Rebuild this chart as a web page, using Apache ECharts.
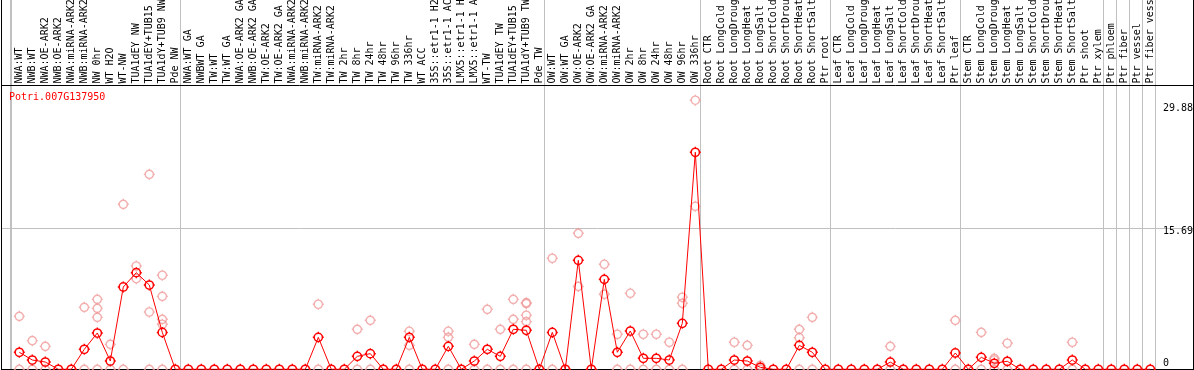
<!DOCTYPE html>
<html><head><meta charset="utf-8">
<script src="https://cdn.jsdelivr.net/npm/echarts@6/dist/echarts.min.js"></script>
<style>html,body{margin:0;padding:0;background:#fff}#c{width:1194px;height:370px}</style>
</head><body><div id="c"></div>
<script>
const categories = [
  'NWA:WT','NWB:WT','NWA:OE-ARK2','NWB:OE-ARK2','NWA:miRNA-ARK2','NWB:miRNA-ARK2','NW 0hr','WT H2O','WT-NW','TUA1dEY NW','TUA1dEY+TUB15','TUA1dY+TUB9 NW','Pde NW',
  'NWA:WT GA','NWBWT GA','TW:WT','TW:WT GA','NWA:OE-ARK2 GA','NWB:OE-ARK2 GA','TW:OE-ARK2','TW:OE-ARK2 GA','NWA:miRNA-ARK2','NWB:miRNA-ARK2','TW:miRNA-ARK2','TW:miRNA-ARK2',
  'TW 2hr','TW 8hr','TW 24hr','TW 48hr','TW 96hr','TW 336hr','WT ACC','35S::etr1-1 H2','35S::etr1-1 AC','LMX5::etr1-1 H','LMX5::etr1-1 A','WT-TW','TUA1dEY TW','TUA1dEY+TUB15','TUA1dY+TUB9 TW','Pde TW',
  'OW:WT','OW:WT GA','OW:OE-ARK2','OW:OE-ARK2 GA','OW:miRNA-ARK2','OW:miRNA-ARK2','OW 2hr','OW 8hr','OW 24hr','OW 48hr','OW 96hr','OW 336hr',
  'Root CTR','Root LongCold','Root LongDroug','Root LongHeat','Root LongSalt','Root ShortCold','Root ShortDrou','Root ShortHeat','Root ShortSalt','Ptr root',
  'Leaf CTR','Leaf LongCold','Leaf LongDroug','Leaf LongHeat','Leaf LongSalt','Leaf ShortCold','Leaf ShortDrou','Leaf ShortHeat','Leaf ShortSalt','Ptr leaf',
  'Stem CTR','Stem LongCold','Stem LongDroug','Stem LongHeat','Stem LongSalt','Stem ShortCold','Stem ShortDrou','Stem ShortHeat','Stem ShortSalt','Ptr shoot','Ptr xylem',
  'Ptr phloem','Ptr fiber','Ptr vessel','Ptr fiber vess'
];
const meanValues = [
  1.89,1.03,0.81,0,0,2.22,4.03,0.92,9.14,10.73,9.36,4.1,0,
  0,0,0,0,0,0,0,0,0,0,3.55,0,
  0,1.44,1.74,0,0,3.55,0,0,2.55,0,0.92,2.22,1.44,4.44,4.33,0,
  4.1,0,12.1,0,9.99,1.89,4.25,1.22,1.22,1.03,5.1,24.1,
  0,0,1.03,0.92,0.22,0,0,2.66,1.89,0,
  0,0,0,0,0.8,0,0,0,0,1.81,
  0,1.33,0.67,0.89,0,0,0,0,1.03,0,0,
  0,0,0,0
];
// replicate measurements: category number (1-based) and values
const replicateCats = [1,2,3,6,7,8,9,10,11,12,24,27,28,31,34,36,37,38,39,40,42,44,46,47,48,49,50,51,52,53,56,57,58,61,62,68,73,75,76,77,82];
const replicateVals = [
  [5.88,0],[3.18,0],[2.55,0],[6.88,0],[7.77,6.77,5.77,0],[2.77,0],[18.32,0],[11.47,10.06],[21.65,6.36,0],[10.44,8.1,5.55,5.0,0],
  [7.22,0],[4.44,0],[5.44,0],[4.22,2.66,0],[4.22,3.55,0],[2.77,0],[6.66,0],[4.44,0],[7.77,5.55,0],[7.4,7.3,6.0,5.29,0],
  [12.33,0],[15.1,9.2],[11.66,8.33],[3.89,0],[8.44,0],[3.89,0],[3.89,0],[3.0,0],[8.0,7.33,0],[29.88,18.1],
  [3.0,0],[2.66,0],[0.44,0],[4.44,3.5,0],[5.77,0],[2.55,0],[5.44,0],[4.1,0],[1.22,1.03,0],[2.89,0],[3.0,0]
];
const groupStarts = [0,13,41,53,63,73,84,85,86,87];
const geneLabel = 'Potri.007G137950';
const yTickValues = [0, 15.69, 29.88];
const yTickLabels = ['0', '15.69', '29.88'];
const yMax = 31.38;

const FONT = '"DejaVu Sans Mono", monospace';
const symbolPath = 'path://M6,0L6,1.5M6,10.5L6,12M0,6L1.5,6M10.5,6L12,6M10.5,6A4.5,4.5,0,1,1,1.5,6A4.5,4.5,0,1,1,10.5,6Z';
const repData = [];
replicateCats.forEach((c, i) => replicateVals[i].forEach(v => repData.push([c - 1, v])));

const chart = echarts.init(document.getElementById('c'), null, {renderer: 'canvas'});
const plotTop = 86.7, plotBottom = 0.7;
chart.setOption({
  animation: false,
  grid: [
    {left: 11.3, width: 1144, top: 0, bottom: 0.5, outerBoundsMode: 'none', containLabel: false},
    {left: 1.5, right: 0.5, top: plotTop, bottom: plotBottom, outerBoundsMode: 'none', containLabel: false},
    {left: 12.8, width: 1144, top: 0, height: 85.5, outerBoundsMode: 'none', containLabel: false},
    {left: 12.8, width: 1144, top: plotTop, bottom: plotBottom, outerBoundsMode: 'none', containLabel: false}
  ],
  xAxis: [
    {gridIndex: 0, type: 'category', data: categories, axisLine: {show: false}, axisTick: {show: false}, axisLabel: {show: false},
     splitLine: {show: true, showMinLine: true, showMaxLine: true, interval: (i) => groupStarts.includes(i), lineStyle: {color: '#c0c0c0', width: 1}}},
    {gridIndex: 1, type: 'value', min: 0, max: 1, show: false},
    {gridIndex: 2, type: 'category', data: categories, position: 'bottom', axisLine: {show: false}, axisTick: {show: false}, splitLine: {show: false},
     axisLabel: {show: true, inside: true, rotate: 90, interval: 0, margin: 2, fontFamily: FONT, fontSize: 10, color: '#000'}},
    {gridIndex: 3, type: 'category', data: categories, show: false}
  ],
  yAxis: [
    {gridIndex: 0, type: 'value', show: false},
    {gridIndex: 1, type: 'value', min: 0, max: yMax, interval: yMax / 2, axisLine: {show: false}, axisTick: {show: false}, axisLabel: {show: false},
     splitLine: {show: true, lineStyle: {color: ['rgba(0,0,0,0)', '#c0c0c0', 'rgba(0,0,0,0)'], width: 1}}},
    {gridIndex: 2, type: 'value', show: false},
    {gridIndex: 3, type: 'value', min: 0, max: yMax, show: false}
  ],
  series: [
    {type: 'scatter', xAxisIndex: 3, yAxisIndex: 3, data: repData, symbol: symbolPath, symbolSize: 11, silent: true, z: 2,
     itemStyle: {color: 'rgba(0,0,0,0)', borderColor: '#f09a9a', borderWidth: 1.4}},
    {type: 'line', xAxisIndex: 3, yAxisIndex: 3, data: meanValues, symbol: symbolPath, symbolSize: 11, showAllSymbol: true, silent: true, z: 3,
     lineStyle: {color: '#ff0000', width: 1}, itemStyle: {color: 'rgba(0,0,0,0)', borderColor: '#ff0000', borderWidth: 1.5}}
  ]
});

const yPx = v => chart.convertToPixel({yAxisIndex: 3}, v);
const c0 = chart.convertToPixel({xAxisIndex: 0}, 0);
const c1 = chart.convertToPixel({xAxisIndex: 0}, 1);
const firstSep = Math.round(c0 - (c1 - c0) / 2) - 0.5;
const labelOffsets = [{va: 'bottom', dy: -1}, {va: 'top', dy: -1.5}, {va: 'top', dy: 3}];
const graphics = [
  {type: 'line', shape: {x1: firstSep, y1: 0, x2: firstSep, y2: 369.5}, style: {stroke: '#c0c0c0', lineWidth: 1}},
  {type: 'line', shape: {x1: 1.5, y1: 0, x2: 1.5, y2: 369.5}, style: {stroke: '#000', lineWidth: 1}},
  {type: 'line', shape: {x1: 1193.5, y1: 0, x2: 1193.5, y2: 369.5}, style: {stroke: '#000', lineWidth: 1}},
  {type: 'line', shape: {x1: 1, y1: 85.5, x2: 1194, y2: 85.5}, style: {stroke: '#000', lineWidth: 1}},
  {type: 'line', shape: {x1: 1, y1: 369.5, x2: 1194, y2: 369.5}, style: {stroke: '#000', lineWidth: 1}},
  {type: 'text', x: 9, y: 97, style: {text: geneLabel, fill: '#ff0000', font: '10px ' + FONT, textAlign: 'left', verticalAlign: 'middle'}}
];
yTickValues.forEach((v, i) => {
  graphics.push({type: 'text', x: 1163, y: yPx(v) + labelOffsets[i].dy,
    style: {text: yTickLabels[i], fill: '#000', font: '10px ' + FONT, textAlign: 'left', verticalAlign: labelOffsets[i].va}});
});
chart.setOption({graphic: graphics});
</script></body></html>
